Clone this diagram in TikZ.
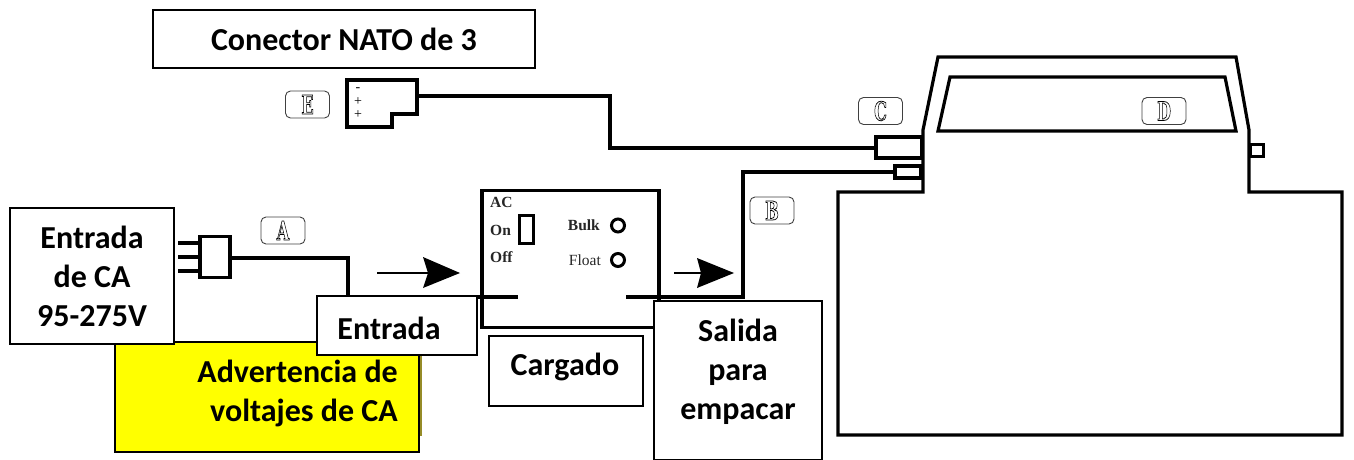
\documentclass[tikz,border=0pt]{standalone}
\usepackage{graphicx}
\usepackage{fontspec}
\setmainfont{Carlito}
\newfontfamily\serifpanel{Liberation Serif}
\newfontfamily\slabtag{DejaVu Serif}
\definecolor{warnyellow}{RGB}{255,255,0}
\definecolor{warnedge}{RGB}{150,140,40}
\newcommand{\outlined}[1]{\scalebox{0.62}[1]{\special{pdf: code 1 Tr 0.8 w}#1\special{pdf: code 0 Tr}}}
\tikzset{
  tbox/.style={draw=black,line width=2pt,fill=white,align=center,font=\bfseries\fontsize{32}{39}\selectfont,inner sep=0pt},
  tfree/.style={inner sep=0pt,align=center,font=\bfseries\fontsize{32}{39}\selectfont},
  wire/.style={draw=black,line width=3.4pt,line join=miter},
  body/.style={draw=black,line width=3.2pt,line join=miter},
  part/.style={draw=black,line width=3.4pt,fill=white,inner sep=0pt},
  tag/.style={draw=black!75,line width=0.9pt,rounded corners=5pt,fill=white,inner sep=0pt,minimum width=44pt,minimum height=27pt,font=\slabtag\bfseries\fontsize{26}{26}\selectfont},
  lamp/.style={circle,draw=black,line width=3pt,fill=white,minimum size=13pt,inner sep=0pt},
  paneltxt/.style={inner sep=0pt,font=\serifpanel\bfseries\fontsize{15.5}{16}\selectfont,text=black!85},
  signtxt/.style={inner sep=0pt,font=\serifpanel\fontsize{14}{14}\selectfont},
  pointer/.style={draw=black,line width=1.4pt},
  pointerhead/.style={fill=black,draw=none},
}
\begin{document}
\begin{tikzpicture}[x=1pt,y=-1pt]
\useasboundingbox (0,0) rectangle (1354,460);
% battery
\coordinate (b1) at (838,435);
\coordinate (b2) at (838,192);
\coordinate (b3) at (923,192);
\coordinate (b4) at (923,130);
\coordinate (b5) at (938,57);
\coordinate (b6) at (1236,57);
\coordinate (b7) at (1249,130);
\coordinate (b8) at (1249,192);
\coordinate (b9) at (1342,192);
\coordinate (b10) at (1342,435);
\draw[body] (b1) -- (b2) -- (b3) -- (b4) -- (b5) -- (b6) -- (b7) -- (b8) -- (b9) -- (b10) -- cycle;
\coordinate (w1) at (950,77);
\coordinate (w2) at (1225,77);
\coordinate (w3) at (1236,131);
\coordinate (w4) at (938,131);
\draw[body] (w1) -- (w2) -- (w3) -- (w4) -- cycle;
\node[part,line width=3pt,minimum width=13pt,minimum height=12pt] (vent) at (1256.5,150) {};
% wires
\node[part,minimum width=46pt,minimum height=21pt] (portC) at (899,147.5) {};
\node[part,minimum width=26pt,minimum height=12pt] (portB) at (908,172) {};
\coordinate (nato) at (417,96);
\coordinate (natoA) at (610,96);
\coordinate (natoB) at (610,148);
\draw[wire] (nato) -- (natoA) -- (natoB) -- (natoB -| portC.west);
\coordinate (outA) at (626,297);
\coordinate (outB) at (743,297);
\coordinate (outC) at (743,172);
% charger
\node[draw=black,line width=3.4pt,fill=white,inner sep=0pt,minimum width=177pt,minimum height=137pt] (charger) at (570.5,259) {};
\draw[wire] (outA) -- (outB) -- (outC) -- (portB.west);
\coordinate (inA) at (470,297);
\coordinate (inB) at (518,297);
\draw[wire] (inA) -- (inB);
\node[part,line width=3pt,minimum width=14pt,minimum height=28pt] (switch) at (526,229.5) {};
\node[paneltxt,anchor=west] (tAC) at (490,202) {AC};
\node[paneltxt,anchor=west] (tOn) at (490,230) {On};
\node[paneltxt,anchor=west] (tOff) at (490,257) {Off};
\node[paneltxt,anchor=east] (tBulk) at (600,225) {Bulk};
\node[paneltxt,anchor=east,font=\serifpanel\fontsize{15.5}{16}\selectfont] (tFloat) at (601,260) {Float};
\node[lamp] (lampB) at (618,225.5) {};
\node[lamp] (lampF) at (618,260) {};
% plug and cable
\node[part,minimum width=30pt,minimum height=41pt] (plug) at (215,257) {};
\coordinate (pr1) at (178,243);
\coordinate (pr2) at (178,257);
\coordinate (pr3) at (178,271);
\draw[wire] (pr1) -- (pr1 -| plug.west);
\draw[wire] (pr2) -- (pr2 -| plug.west);
\draw[wire] (pr3) -- (pr3 -| plug.west);
\coordinate (acA) at (348,258);
\coordinate (acB) at (348,300);
\draw[wire] (plug.east |- acA) -- (acA) -- (acB);
% Nato connector
\coordinate (n1) at (347,80);
\coordinate (n2) at (417,80);
\coordinate (n3) at (417,114);
\coordinate (n4) at (392,114);
\coordinate (n5) at (392,127);
\coordinate (n6) at (347,127);
\draw[part] (n1) -- (n2) -- (n3) -- (n4) -- (n5) -- (n6) -- cycle;
\node[signtxt] (pm) at (358,90) {-};
\node[signtxt] (p1) at (358,102) {+};
\node[signtxt] (p2) at (358,115) {+};
% arrows
\coordinate (a1s) at (377,273);
\coordinate (a1b) at (428,273);
\coordinate (a1t) at (460,273);
\coordinate (a1u) at (423,257);
\coordinate (a1d) at (423,288);
\draw[pointer] (a1s) -- (a1b);
\fill[pointerhead] (a1u) -- (a1t) -- (a1d) -- (a1b) -- cycle;
\coordinate (a2s) at (674,273);
\coordinate (a2b) at (701,273);
\coordinate (a2t) at (734,273);
\coordinate (a2u) at (697,258);
\coordinate (a2d) at (697,288);
\draw[pointer] (a2s) -- (a2b);
\fill[pointerhead] (a2u) -- (a2t) -- (a2d) -- (a2b) -- cycle;
% tags
\node[tag] (tagE) at (307.5,104.5) {\outlined{E}};
\node[tag] (tagA) at (283,230.5) {\outlined{A}};
\node[tag] (tagB) at (772,210.5) {\outlined{B}};
\node[tag] (tagC) at (880.5,111) {\outlined{C}};
\node[tag] (tagD) at (1164,111) {\outlined{D}};
% label boxes
\node[tbox,minimum width=382pt,minimum height=58pt] (lNato) at (344,39) {Conector NATO de 3};
\node[draw=warnedge,line width=1.5pt,minimum width=302pt,minimum height=78pt,inner sep=0pt] (shade) at (270,396) {};
\node[tbox,fill=warnyellow,minimum width=304pt,minimum height=110pt] (lWarn) at (267,397) {};
\node[inner sep=0pt,align=right,anchor=east,font=\bfseries\fontsize{32}{39}\selectfont] (lWarnT) at (398,393) {Advertencia de\\voltajes de CA};
\node[tbox,minimum width=164pt,minimum height=136pt] (lIn) at (92,276) {Entrada\\de CA\\95-275V};
\node[tbox,minimum width=160pt,minimum height=59pt] (lEnt) at (397,325.5) {};
\node[tfree] (lEntT) at (389,328) {Entrada};
\node[tbox,minimum width=154pt,minimum height=70pt] (lCarg) at (566,371) {};
\node[tfree] (lCargT) at (565,367) {Cargado};
\node[tbox,minimum width=168pt,minimum height=159pt] (lSal) at (738,380) {};
\node[tfree] (lSalT) at (738,372) {Salida\\para\\empacar};
\end{tikzpicture}
\end{document}
